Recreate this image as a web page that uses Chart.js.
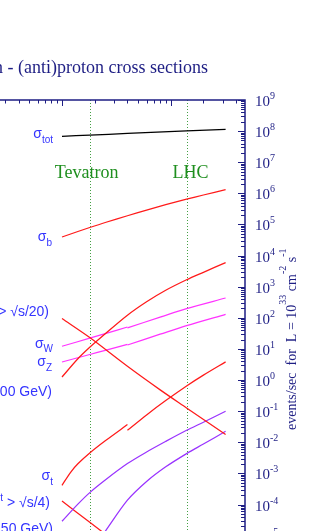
<!DOCTYPE html>
<html><head><meta charset="utf-8">
<script src="https://cdn.jsdelivr.net/npm/chart.js@4/dist/chart.umd.min.js"></script>
<style>html,body{margin:0;padding:0;background:#fff;overflow:hidden}canvas{display:block}</style>
</head><body>
<canvas id="c" width="317" height="531"></canvas>
<script>
// ---- data (sqrt(s) in TeV, cross section in nb = events/sec for L=1e33) ----
const sqrtS_tot = [1, 1.8, 4, 14, 32];
const sigma_tot = [6.8e7, 7.45e7, 8.39e7, 1.01e8, 1.14e8];

const sqrtS_grid = [1, 1.4, 1.8, 2.5, 4, 6, 9, 14, 20, 32];
const sigma_b = [3.96e4, 5.94e4, 8.0e4, 1.16e5, 1.91e5, 2.90e5, 4.32e5, 6.49e5, 8.85e5, 1.31e6];
const sigma_jet100 = [1.256, 4.83, 11.3, 30.7, 121, 327, 767, 1667, 2904, 5957];
const sigma_higgs150 = [2.9e-5, 1.03e-4, 2.42e-4, 6.15e-4, 2.07e-3, 4.89e-3, 0.0107, 0.0243, 0.0443, 0.0993];

const sqrtS_jet20 = [1, 1.8, 4, 8, 14, 32];
const sigma_jet20 = [94.6, 23.2, 2.77, 0.484, 0.127, 0.0177];

const sqrtS_ppbar = [1, 1.8, 2.5, 4];
const sigma_W_ppbar = [12.2, 22.2, 31.2, 50.8];
const sigma_Z_ppbar = [3.81, 6.64, 9.0, 14.1];
const sqrtS_pp = [4, 8, 14, 32];
const sigma_W_pp = [47.9, 105, 198, 434];
const sigma_Z_pp = [13.4, 29.8, 56.4, 130];

const sqrtS_top_ppbar = [1, 1.2, 1.4, 1.8, 2.5, 4];
const sigma_top_ppbar = [4.16e-4, 1.09e-3, 2.04e-3, 4.54e-3, 0.0112, 0.0371];
const sqrtS_top_pp = [4, 6, 9, 14, 20, 32];
const sigma_top_pp = [0.0243, 0.076, 0.219, 0.646, 1.44, 3.84];

const sqrtS_higgs500 = [2.5, 4, 6, 9, 14, 20, 32];
const sigma_higgs500 = [1.38e-5, 1.38e-4, 5.5e-4, 1.63e-3, 4.34e-3, 8.8e-3, 0.0226];

const sqrtS_jet4 = [1, 1.8, 4];
const sigma_jet4 = [1.3e-4, 2.7e-5, 3.2e-6];

const colliderNames = ['Tevatron', 'LHC'];
const colliderEnergies = [1.8, 14];
const decadeExponents = [9, 8, 7, 6, 5, 4, 3, 2, 1, 0, -1, -2, -3, -4, -5];
const titleText = 'proton - (anti)proton cross sections';

// ---- styling ----
const NAVY = '#1e1e84';
const RED = '#ff1a1a', MAG = '#ff33ff', PUR = '#9933ff', LBLUE = '#3434ff', GREEN = '#1f8f1f';
const SANS = '"Liberation Sans", Arial, sans-serif';
const SERIF = '"Liberation Serif", "Times New Roman", serif';

function pts(xs, ys) { return xs.map((x, i) => ({x: x, y: ys[i]})); }
function ds(xs, ys, color) {
  return {data: pts(xs, ys), borderColor: color, borderWidth: 1.25, pointRadius: 0,
          fill: false, tension: 0.3};
}

const datasets = [
  ds(sqrtS_tot, sigma_tot, '#000000'),
  ds(sqrtS_grid, sigma_b, RED),
  ds(sqrtS_grid, sigma_jet100, RED),
  ds(sqrtS_jet20, sigma_jet20, RED),
  ds(sqrtS_ppbar, sigma_W_ppbar, MAG),
  ds(sqrtS_pp, sigma_W_pp, MAG),
  ds(sqrtS_ppbar, sigma_Z_ppbar, MAG),
  ds(sqrtS_pp, sigma_Z_pp, MAG),
  ds(sqrtS_top_ppbar, sigma_top_ppbar, RED),
  ds(sqrtS_top_pp, sigma_top_pp, RED),
  ds(sqrtS_grid, sigma_higgs150, PUR),
  ds(sqrtS_higgs500, sigma_higgs500, PUR),
  ds(sqrtS_jet4, sigma_jet4, RED)
];

function drawRich(ctx, parts, xRight, base, color) {
  let w = 0;
  const widths = parts.map(p => { ctx.font = p.s + 'px ' + SANS; return ctx.measureText(p.t).width; });
  parts.forEach((p, i) => {
    if (p.stack) { w += Math.max(widths[i], widths[i + 1]); }
    else if (!(i > 0 && parts[i - 1].stack)) { w += widths[i]; }
  });
  let x = xRight - w;
  ctx.fillStyle = color; ctx.textAlign = 'left'; ctx.textBaseline = 'alphabetic';
  for (let i = 0; i < parts.length; i++) {
    const p = parts[i];
    ctx.font = p.s + 'px ' + SANS;
    ctx.fillText(p.t, x, base + (p.dy || 0));
    if (p.stack) {
      const q = parts[i + 1];
      ctx.font = q.s + 'px ' + SANS;
      ctx.fillText(q.t, x, base + (q.dy || 0));
      x += Math.max(widths[i], widths[i + 1]);
      i++;
    } else x += widths[i];
  }
}

const S = 'σ';
const curveLabels = [
  {parts: [{t: S, s: 14}, {t: 'tot', s: 10, dy: 5}], r: 53, b: 138},
  {parts: [{t: S, s: 14}, {t: 'b', s: 10, dy: 5}], r: 52, b: 241},
  {parts: [{t: S, s: 14}, {t: 'jet', s: 10, dy: 5}, {t: '(E', s: 14}, {t: 'T', s: 10, dy: 5, stack: true}, {t: 'jet', s: 10, dy: -6}, {t: ' > √s/20)', s: 14}], r: 49, b: 316},
  {parts: [{t: S, s: 14}, {t: 'W', s: 10, dy: 4}], r: 53, b: 348},
  {parts: [{t: S, s: 14}, {t: 'Z', s: 10, dy: 5}], r: 52, b: 366},
  {parts: [{t: S, s: 14}, {t: 'jet', s: 10, dy: 5}, {t: '(E', s: 14}, {t: 'T', s: 10, dy: 5, stack: true}, {t: 'jet', s: 10, dy: -6}, {t: ' > 100 GeV)', s: 14}], r: 52, b: 396},
  {parts: [{t: S, s: 14}, {t: 't', s: 10, dy: 5}], r: 53, b: 480},
  {parts: [{t: S, s: 14}, {t: 'jet', s: 10, dy: 5}, {t: '(E', s: 14}, {t: 'T', s: 10, dy: 5, stack: true}, {t: 'jet', s: 10, dy: -6}, {t: ' > √s/4)', s: 14}], r: 50, b: 507},
  {parts: [{t: S, s: 14}, {t: 'Higgs', s: 10, dy: 5}, {t: '(M', s: 14}, {t: 'H', s: 10, dy: 5}, {t: '=150 GeV)', s: 14}], r: 53, b: 533}
];

const decor = {
  id: 'decor',
  beforeDatasetsDraw(chart) {
    const ctx = chart.ctx, xs = chart.scales.x, a = chart.chartArea;
    ctx.save();
    ctx.strokeStyle = '#44a044'; ctx.lineWidth = 1; ctx.setLineDash([1, 2]);
    colliderEnergies.forEach(e => {
      const px = Math.round(xs.getPixelForValue(e)) + 0.5;
      ctx.beginPath(); ctx.moveTo(px, a.top); ctx.lineTo(px, a.bottom); ctx.stroke();
    });
    ctx.setLineDash([]);
    ctx.fillStyle = GREEN; ctx.font = '18px ' + SERIF; ctx.textBaseline = 'alphabetic'; ctx.textAlign = 'left';
    const offs = [-35, -14];
    colliderNames.forEach((n, i) => {
      ctx.fillText(n, xs.getPixelForValue(colliderEnergies[i]) + offs[i], 177.5);
    });
    ctx.restore();
  },
  afterDraw(chart) {
    const ctx = chart.ctx, xs = chart.scales.x, ys = chart.scales.y, a = chart.chartArea;
    ctx.save();
    ctx.fillStyle = NAVY; ctx.font = '18px ' + SERIF; ctx.textAlign = 'right'; ctx.textBaseline = 'alphabetic';
    ctx.fillText(titleText, 208, 72.5);
    ctx.strokeStyle = NAVY; ctx.lineWidth = 1.5;
    ctx.beginPath(); ctx.moveTo(a.left - 2, a.top); ctx.lineTo(a.right, a.top); ctx.lineTo(a.right, a.bottom + 2); ctx.stroke();
    ctx.lineWidth = 1;
    for (let e = -1; e <= 1; e++) for (let k = 1; k <= 9; k++) {
      const v = k * Math.pow(10, e);
      if (v < xs.min || v > xs.max) continue;
      const px = Math.round(xs.getPixelForValue(v)) + 0.5;
      const len = k === 1 ? 6 : 3.5;
      ctx.beginPath(); ctx.moveTo(px, a.top); ctx.lineTo(px, a.top + len); ctx.stroke();
    }
    for (let e = -6; e <= 9; e++) for (let k = 1; k <= 9; k++) {
      const v = k * Math.pow(10, e);
      if (v < ys.min || v > ys.max * 1.0001) continue;
      const py = Math.round(ys.getPixelForValue(v)) + 0.5;
      const len = k === 1 ? 7 : 4;
      ctx.beginPath(); ctx.moveTo(a.right - len, py); ctx.lineTo(a.right, py); ctx.stroke();
    }
    ctx.fillStyle = NAVY; ctx.textAlign = 'left';
    decadeExponents.forEach(e => {
      const py = ys.getPixelForValue(Math.pow(10, e));
      ctx.font = '15px ' + SERIF;
      ctx.fillText('10', 255, py + 6);
      const w = ctx.measureText('10').width;
      ctx.font = '10px ' + SERIF;
      ctx.fillText(String(e), 255 + w, py - 1);
    });
    ctx.translate(296, 430);
    ctx.rotate(-Math.PI / 2);
    const tparts = [
      {t: 'events/sec  for  L = 10', s: 14, dy: 0},
      {t: '33', s: 10, dy: -10},
      {t: ' cm', s: 14, dy: 0},
      {t: '-2', s: 10, dy: -10},
      {t: ' s', s: 14, dy: 0},
      {t: '-1', s: 10, dy: -10}
    ];
    let tx = 0;
    tparts.forEach(p => {
      ctx.font = p.s + 'px ' + SERIF;
      ctx.fillText(p.t, tx, p.dy);
      tx += ctx.measureText(p.t).width;
    });
    ctx.setTransform(1, 0, 0, 1, 0, 0);
    curveLabels.forEach(l => drawRich(ctx, l.parts, l.r, l.b, LBLUE));
    ctx.restore();
  }
};

new Chart(document.getElementById('c'), {
  type: 'line',
  data: {datasets: datasets},
  options: {
    responsive: false, animation: false, devicePixelRatio: 1,
    layout: {padding: {top: 100, right: 72, left: 0, bottom: 0}},
    plugins: {legend: {display: false}, tooltip: {enabled: false}, title: {display: false}},
    scales: {
      x: {type: 'logarithmic', position: 'top', min: 0.2689, max: 48.26, display: false},
      y: {type: 'logarithmic', position: 'right', min: 1.413e-5, max: 1e9, display: false}
    }
  },
  plugins: [decor]
});
</script>
</body></html>
